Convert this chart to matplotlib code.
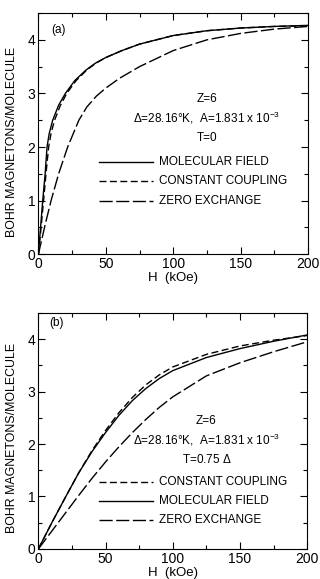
import matplotlib
matplotlib.use("Agg")
import matplotlib.pyplot as plt
from matplotlib.ticker import MultipleLocator

# Magnetization (Bohr magnetons / molecule) vs field H (kOe)
# Panel (a): T = 0
H_MF_A = [0, 1.5, 3.2, 5, 6.4, 8, 10.6, 15, 20, 27, 35, 42, 50, 62, 75, 100, 125, 150, 175, 200]
M_MF_A = [0, 0.47, 1.0, 1.5, 2.0, 2.25, 2.5, 2.78, 3.0, 3.24, 3.43, 3.56, 3.67, 3.8, 3.92, 4.08, 4.17, 4.22, 4.25, 4.27]
H_CC_A = [0, 2, 4, 6, 7.6, 9.5, 12, 16, 21, 28, 36, 43, 50, 62, 75, 100, 125, 150, 175, 200]
M_CC_A = [0, 0.5, 1.05, 1.6, 2.0, 2.27, 2.5, 2.76, 3.0, 3.24, 3.44, 3.57, 3.67, 3.8, 3.92, 4.08, 4.17, 4.22, 4.25, 4.26]
H_ZE_A = [0, 5, 9.4, 15, 21.7, 30, 36, 43, 50, 60, 75, 100, 125, 150, 175, 200]
M_ZE_A = [0, 0.55, 1.0, 1.5, 2.0, 2.5, 2.75, 2.95, 3.1, 3.28, 3.5, 3.8, 4.0, 4.12, 4.2, 4.25]

# Panel (b): T = 0.75 Delta
H_B = [0, 10, 20, 30, 40, 50, 60, 70, 80, 90, 100, 125, 150, 175, 200]
M_MF_B = [0, 0.5, 0.98, 1.45, 1.86, 2.22, 2.55, 2.83, 3.06, 3.25, 3.4, 3.65, 3.82, 3.96, 4.08]
M_CC_B = [0, 0.5, 0.98, 1.45, 1.88, 2.26, 2.6, 2.89, 3.13, 3.32, 3.47, 3.71, 3.87, 3.98, 4.07]
M_ZE_B = [0, 0.34, 0.68, 1.02, 1.35, 1.66, 1.95, 2.22, 2.47, 2.7, 2.9, 3.3, 3.55, 3.76, 3.95]

LABEL_MF = "MOLECULAR FIELD"
LABEL_CC = "CONSTANT COUPLING"
LABEL_ZE = "ZERO EXCHANGE"

plt.rcParams["font.family"] = ["Liberation Sans", "DejaVu Sans"]
plt.rcParams["mathtext.fontset"] = "custom"
plt.rcParams["mathtext.rm"] = "Liberation Sans"

STYLE_MF = dict(color="black", lw=1.0, ls="-")
STYLE_CC = dict(color="black", lw=1.0, ls=(0, (5, 2.5)))
STYLE_ZE = dict(color="black", lw=1.0, ls=(0, (9.5, 2.5)))
FS = 8.5


def style_axes(ax):
    ax.set_xlim(0, 200)
    ax.set_ylim(0, 4.5)
    ax.xaxis.set_major_locator(MultipleLocator(50))
    ax.xaxis.set_minor_locator(MultipleLocator(25))
    ax.yaxis.set_major_locator(MultipleLocator(1))
    ax.yaxis.set_minor_locator(MultipleLocator(0.5))
    ax.tick_params(which="both", direction="in", top=True, right=True, width=0.8)
    ax.tick_params(which="major", length=5, labelsize=10, pad=2)
    ax.tick_params(which="minor", length=3)
    for s in ax.spines.values():
        s.set_linewidth(0.8)


def annotate(ax, lines, ys):
    for s, y in zip(lines, ys):
        ax.text(0.625, y, s, transform=ax.transAxes, fontsize=FS,
                ha="center", va="center")


def legend_rows(ax, rows, ys):
    for (label, style), y in zip(rows, ys):
        ax.plot([0.225, 0.426], [y, y], transform=ax.transAxes, **style)
        ax.text(0.448, y, label, transform=ax.transAxes, fontsize=FS,
                va="center", ha="left")


PARAMS = r"$\Delta$=28.16°K,  A=1.831 x 10$^{-3}$"

fig = plt.figure(figsize=(3.2, 5.79), dpi=100)

# (a) T = 0
ax1 = fig.add_axes([0.12, 0.561, 0.843, 0.4165])
ax1.plot(H_MF_A, M_MF_A, **STYLE_MF)
ax1.plot(H_CC_A, M_CC_A, **STYLE_CC)
ax1.plot(H_ZE_A, M_ZE_A, **STYLE_ZE)
style_axes(ax1)
ax1.set_xlabel("H  (kOe)", fontsize=9.5, labelpad=1)
ax1.text(0.073, 0.93, "(a)", transform=ax1.transAxes, fontsize=FS, ha="center", va="center")
annotate(ax1, ["Z=6", PARAMS, "T=0"], [0.643, 0.564, 0.481])
legend_rows(ax1, [(LABEL_MF, STYLE_MF), (LABEL_CC, STYLE_CC), (LABEL_ZE, STYLE_ZE)],
            [0.382, 0.303, 0.220])

# (b) T = 0.75 Delta
ax2 = fig.add_axes([0.12, 0.052, 0.84, 0.4075])
ax2.plot(H_B, M_CC_B, **STYLE_CC)
ax2.plot(H_B, M_MF_B, **STYLE_MF)
ax2.plot(H_B, M_ZE_B, **STYLE_ZE)
style_axes(ax2)
ax2.set_xlabel("H  (kOe)", fontsize=9.5, labelpad=1)
ax2.text(0.069, 0.958, "(b)", transform=ax2.transAxes, fontsize=FS, ha="center", va="center")
annotate(ax2, ["Z=6", PARAMS, r"T=0.75 $\Delta$"], [0.542, 0.462, 0.377])
legend_rows(ax2, [(LABEL_CC, STYLE_CC), (LABEL_MF, STYLE_MF), (LABEL_ZE, STYLE_ZE)],
            [0.284, 0.203, 0.123])

for yc in (1 - 142 / 579, 1 - 438 / 579):
    fig.text(0.038, yc, "BOHR MAGNETONS/MOLECULE", rotation=90, fontsize=8.9,
             ha="center", va="center")

fig.savefig("out.png", dpi=100)
